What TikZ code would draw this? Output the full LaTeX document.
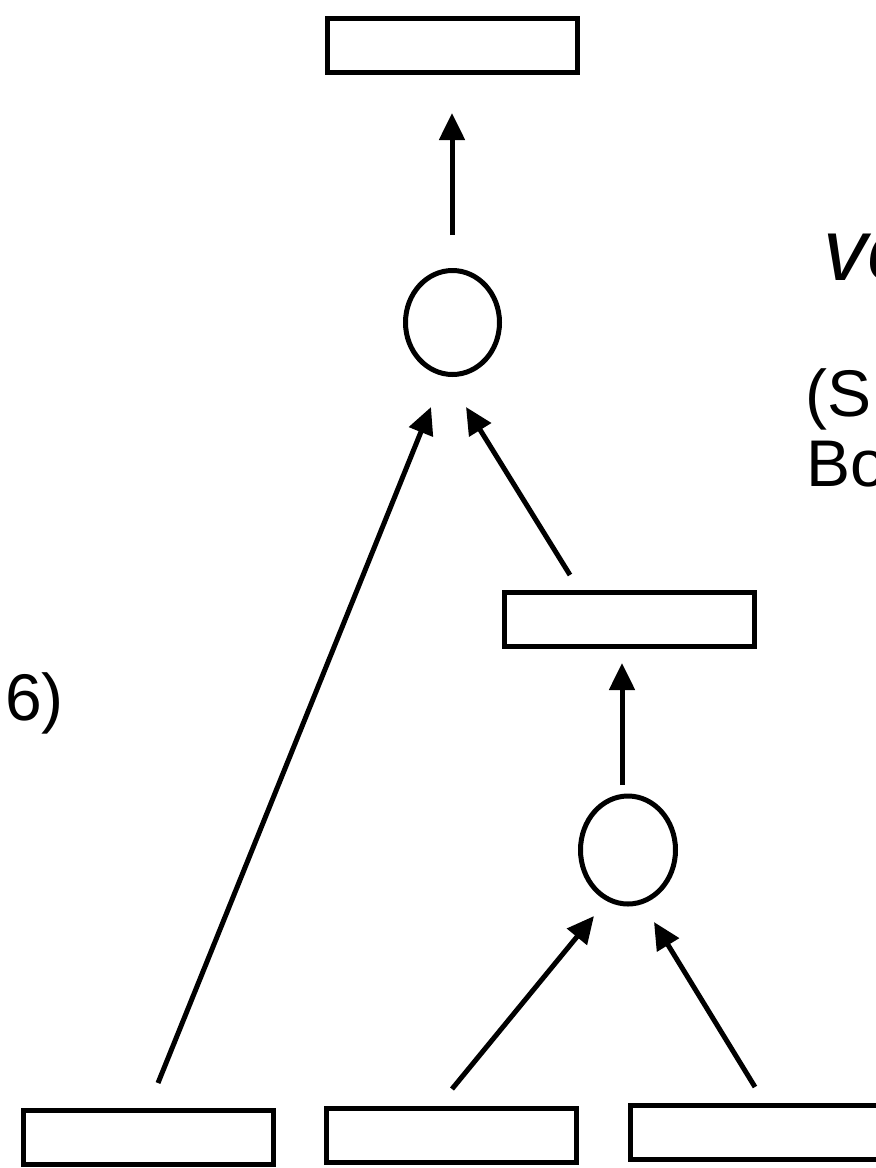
\documentclass[tikz,border=0pt]{standalone}
\usepackage{fontspec}
\setmainfont{Liberation Sans}
\usetikzlibrary{arrows.meta,shapes.geometric,calc}
\begin{document}
\begin{tikzpicture}[x=1pt,y=-1pt,
  box/.style={draw=black,line width=5pt,rectangle,minimum width=250pt,minimum height=54pt,inner sep=0pt,fill=white},
  ring/.style={draw=black,line width=5pt,ellipse,inner sep=0pt},
  arr/.style={line width=5pt,-{Triangle[width=25pt,length=27pt]}},
  lbl/.style={anchor=base west,inner sep=0pt,font=\fontsize{66}{76}\selectfont},
  big/.style={anchor=base west,inner sep=0pt,font=\fontsize{88}{100}\selectfont\itshape}]
\useasboundingbox (0,0) rectangle (876,1168);
\fill[white] (0,0) rectangle (876,1168);
\clip (0,0) rectangle (876,1168);
% boxes
\node[box] (top) at (452.5,45.5) {};
\node[box] (mid) at (629.5,619.5) {};
\node[box] (b1) at (148,1137.5) {};
\node[box] (b2) at (451.5,1135.5) {};
\node[box] (b3) at (755.5,1132.5) {};
% circles
\node[ring,minimum width=94pt,minimum height=104pt] (c1) at (452.5,322.5) {};
\node[ring,minimum width=95pt,minimum height=108pt] (c2) at (628,850) {};
% arrows
\draw[arr] ($(c1)+(-0.5,-87.5)$) -- ($(top)+(-0.5,67.5)$);
\draw[arr] ($(b1)+(10,-54.5)$) -- ($(c1)+(-21.5,84.5)$);
\draw[arr] ($(mid)+(-59.5,-44.5)$) -- ($(c1)+(13.5,84.5)$);
\draw[arr] ($(c2)+(-6,-65)$) -- ($(mid)+(-7.5,43.5)$);
\draw[arr] ($(b2)+(0.5,-46.5)$) -- ($(c2)+(-34,66)$);
\draw[arr] ($(b3)+(-0.5,-45.5)$) -- ($(c2)+(26,72)$);
% texts
\node[big] (t1) at (823,280) {ve};
\node[lbl] (t2) at (805,416) {(S};
\node[lbl] (t3) at (806,486) {Bo};
\node[lbl] (t4) at (5,720) {6)};
\end{tikzpicture}
\end{document}
